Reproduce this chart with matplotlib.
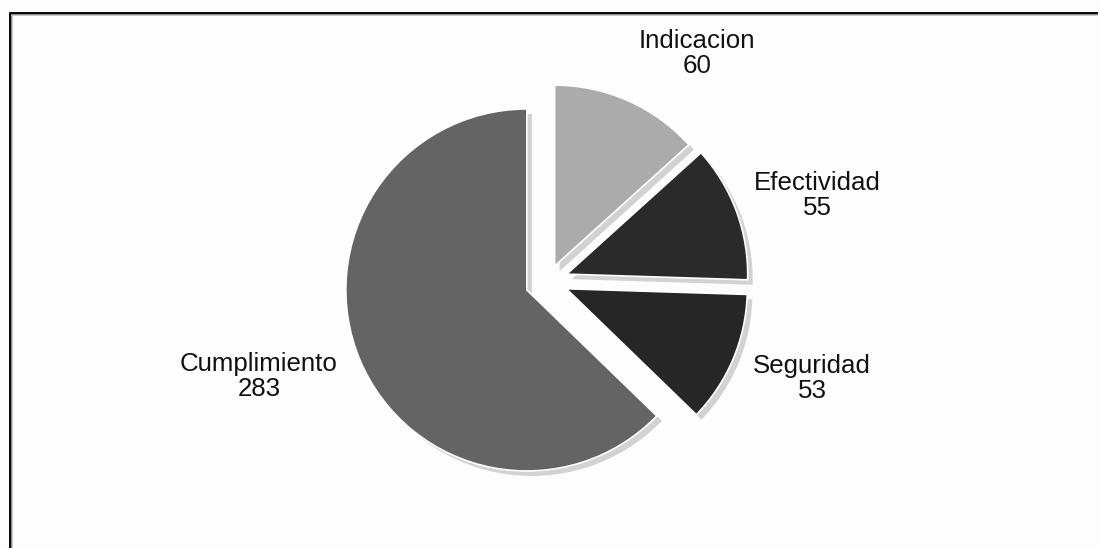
import matplotlib
matplotlib.use("Agg")
import matplotlib.pyplot as plt
import matplotlib.patheffects as pe
from matplotlib.lines import Line2D

# Data
categories = ["Indicacion", "Efectividad", "Seguridad", "Cumplimiento"]
counts = [60, 55, 53, 283]
colors = ["#ababab", "#2a2a2a", "#262626", "#646464"]
explode = [0.09, 0.11, 0.11, 0.127]

# Label centres, in units of the pie radius (pie centred at 0,0)
label_pos = [(0.823, 1.255), (1.49, 0.47), (1.46, -0.54), (-1.597, -0.527)]

W, H, DPI = 1098, 548, 100
cx, cy, R = 548, 281, 181  # pie centre and radius in pixels

fig = plt.figure(figsize=(W / DPI, H / DPI), dpi=DPI)
fig.patch.set_facecolor("#fdfdfd")
ax = fig.add_axes([0, 0, 1, 1])

wedges, _ = ax.pie(
    counts,
    colors=colors,
    explode=explode,
    startangle=90,
    counterclock=False,
    radius=1.0,
    wedgeprops=dict(edgecolor="white", linewidth=1.2),
)
for w in wedges:
    w.set_path_effects([
        pe.SimplePatchShadow(offset=(3.6, -3.6), shadow_rgbFace="#d2d2d2", alpha=1.0),
        pe.Normal(),
    ])

ax.set_xlim(-cx / R, (W - cx) / R)
ax.set_ylim((cy - H) / R, cy / R)
ax.set_aspect("equal")
ax.axis("off")

for name, value, (x, y) in zip(categories, counts, label_pos):
    ax.text(x, y, f"{name}\n{value}", ha="center", va="center",
            fontsize=18.6, family="Liberation Sans", color="#111111",
            linespacing=1.05)

# Frame lines along the top and left edges
def px_line(x0, y0, x1, y1, color, lw_px):
    fig.add_artist(Line2D([x0 / W, x1 / W], [1 - y0 / H, 1 - y1 / H],
                          transform=fig.transFigure, color=color,
                          linewidth=lw_px * 72 / DPI, solid_capstyle="butt"))

px_line(8.5, 12.5, W, 12.5, "#0a0a0a", 3)
px_line(9.5, 12, 9.5, H, "#0a0a0a", 3)
px_line(11, 15, W, 15, "#b8b8b8", 1.5)
px_line(12, 15, 12, H, "#b8b8b8", 1.5)

fig.savefig("out.png", dpi=DPI, facecolor=fig.get_facecolor())
